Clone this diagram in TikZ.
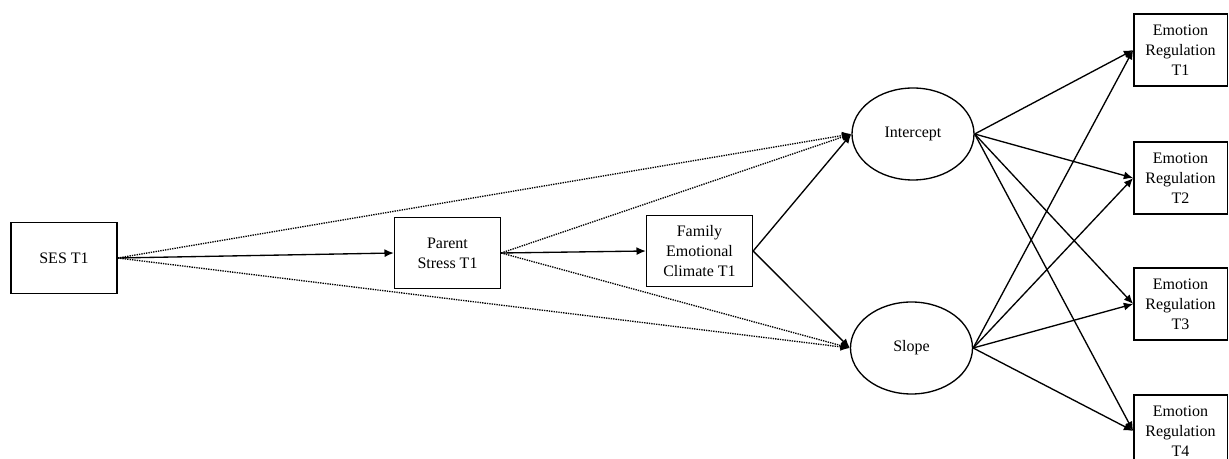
\documentclass[tikz,border=0pt]{standalone}
\usepackage{fontspec}
\setmainfont{Liberation Serif}
\usetikzlibrary{arrows.meta,positioning,shapes.geometric}

\begin{document}
\begin{tikzpicture}[
x=0.75pt,y=-0.75pt,
every node/.style={font=\fontsize{12}{15}\selectfont,align=center,inner sep=0pt},
obs/.style={draw,line width=1pt,minimum width=79.5pt,minimum height=53pt},
erbox/.style={draw,line width=1pt,minimum width=70pt,minimum height=54pt},
lat/.style={draw,ellipse,line width=1pt,minimum width=91.5pt,minimum height=69pt},
arr/.style={-{Latex[length=7pt,width=6pt]},line width=1pt},
darr/.style={arr,dash pattern=on 1pt off 0.8pt}
]
\useasboundingbox (0,0) rectangle (1229,459);
\node[obs] (ses) at (64,258) {SES T1};
\node[obs] (ps) at (447.5,253) {Parent\\Stress T1};
\node[obs] (fec) at (699.5,251) {Family\\Emotional\\Climate T1};
\node[lat] (int) at (913,134) {Intercept};
\node[lat] (slp) at (911.5,348) {Slope};
\node[erbox] (er1) at (1180.5,50) {Emotion\\Regulation\\T1};
\node[erbox] (er2) at (1180.5,178) {Emotion\\Regulation\\T2};
\node[erbox] (er3) at (1180.5,304) {Emotion\\Regulation\\T3};
\node[erbox] (er4) at (1180.5,431) {Emotion\\Regulation\\T4};
% predictors
\draw[arr] (ses.east) -- (ps.west);
\draw[arr] (ps.east) -- (fec.west);
\draw[darr] (ses.east) -- (int.west);
\draw[darr] (ses.east) -- (slp.west);
\draw[darr] (ps.east) -- (int.west);
\draw[darr] (ps.east) -- (slp.west);
\draw[arr] (fec.east) -- (int.west);
\draw[arr] (fec.east) -- (slp.west);
% growth factors to outcomes
\foreach \i in {1,2,3,4}{
  \draw[arr] (int.east) -- (er\i.west);
  \draw[arr] (slp.east) -- (er\i.west);
}
\end{tikzpicture}
\end{document}
